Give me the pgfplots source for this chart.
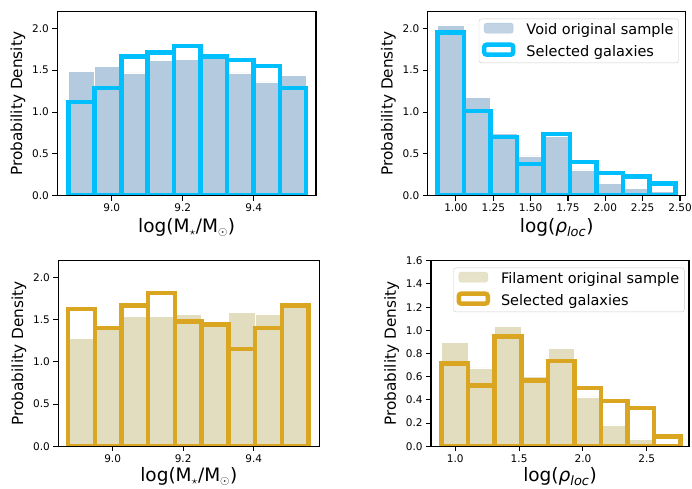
\documentclass[border=0pt]{standalone}
\usepackage{fontspec}
\setmainfont{DejaVu Sans}
\usepackage{pgfplots}
\pgfplotsset{compat=1.18}
\definecolor{voidfill}{RGB}{180,202,222}
\definecolor{filfill}{RGB}{225,221,190}
\definecolor{selblue}{RGB}{0,191,255}
\definecolor{selgold}{RGB}{218,165,32}
\pgfplotsset{
  hist/.style={
    scale only axis,
    axis on top,
    axis line style={line width=1.1pt, black},
    tick align=outside,
    tick pos=left,
    major tick length=4.9pt,
    every tick/.style={black, line width=1.1pt},
    ymin=0,
    /pgf/number format/assume math mode=true,
    ticklabel style={font=\fontsize{10.5}{12}\selectfont},
    yticklabel style={/pgf/number format/.cd, fixed, fixed zerofill, precision=1},
    ylabel={Probability Density},
    ylabel style={font=\fontsize{15.3}{17}\selectfont},
    xlabel style={font=\fontsize{18.5}{20}\selectfont},
    legend cell align=left,
    legend style={at={(1,1)}, anchor=north east, xshift=-7pt, yshift=-7pt,
      draw=black!20, rounded corners=2.5pt, fill=white, fill opacity=0.8, text opacity=1,
      font=\fontsize{14.5}{16}\selectfont, inner sep=3pt, row sep=4pt,
      /tikz/every odd column/.append style={column sep=9pt}},
  },
  filledbar/.style={ybar interval, fill=#1, draw=white, line width=0.5pt},
  outlinebar/.style={ybar interval, fill=none, draw=#1, line width=4.5pt},
}
\begin{document}
\begin{tikzpicture}
\path[use as bounding box] (0,0) rectangle (692pt,488pt);
% ---------- top left ----------
\begin{axis}[hist, at={(57.3pt,292.3pt)}, anchor=south west, width=258.7pt, height=184pt,
  xmin=8.847, xmax=9.575, ymax=2.2, xtick={9.0,9.2,9.4}, ytick={0,0.5,1,1.5,2},
  xticklabel style={/pgf/number format/.cd, fixed, fixed zerofill, precision=1},
  xlabel={log(M$_\star$/M$_\odot$)}]
\addplot[filledbar=voidfill] coordinates {(8.878,1.49) (8.952,1.55) (9.027,1.47) (9.101,1.62) (9.176,1.63) (9.250,1.64) (9.324,1.47) (9.399,1.36) (9.473,1.44) (9.547,1.44)};
\addplot[outlinebar=selblue] coordinates {(8.878,1.12) (8.952,1.29) (9.027,1.665) (9.101,1.71) (9.176,1.79) (9.250,1.665) (9.324,1.62) (9.399,1.55) (9.473,1.29) (9.547,1.29)};
\end{axis}
% ---------- top right ----------
\begin{axis}[hist, at={(427.7pt,292.3pt)}, anchor=south west, width=258pt, height=184pt,
  xmin=0.811, xmax=2.538, ymax=2.2, xtick={1,1.25,1.5,1.75,2,2.25,2.5}, ytick={0,0.5,1,1.5,2},
  xticklabel style={/pgf/number format/.cd, fixed, fixed zerofill, precision=2},
  xlabel={log({\itshape ρ}\textsubscript{\itshape loc})}]
\addplot[filledbar=voidfill, legend image code/.code={\fill[voidfill] (0pt,-3pt) rectangle (29pt,7pt);}] coordinates {(0.877,2.04) (1.054,1.18) (1.231,0.75) (1.408,0.475) (1.585,0.71) (1.763,0.31) (1.940,0.15) (2.117,0.09) (2.294,0.048) (2.471,0.048)};
\addlegendentry{Void original sample}
\addplot[outlinebar=selblue, legend image code/.code={\draw[selblue, line width=4.5pt] (0pt,-3pt) rectangle (29pt,7pt);}] coordinates {(0.877,1.95) (1.054,1.01) (1.231,0.70) (1.408,0.38) (1.585,0.735) (1.763,0.40) (1.940,0.27) (2.117,0.228) (2.294,0.143) (2.471,0.143)};
\addlegendentry{Selected galaxies}
\end{axis}
% ---------- bottom left ----------
\begin{axis}[hist, at={(58.3pt,41.7pt)}, anchor=south west, width=261pt, height=185.6pt,
  xmin=8.846, xmax=9.586, ymax=2.2, xtick={9.0,9.2,9.4}, ytick={0,0.5,1,1.5,2},
  xticklabel style={/pgf/number format/.cd, fixed, fixed zerofill, precision=1},
  xlabel style={yshift=2pt},
  xlabel={log(M$_\star$/M$_\odot$)}]
\addplot[filledbar=filfill] coordinates {(8.874,1.275) (8.950,1.44) (9.025,1.54) (9.101,1.54) (9.177,1.56) (9.252,1.47) (9.328,1.585) (9.404,1.57) (9.480,1.65) (9.555,1.65)};
\addplot[outlinebar=selgold] coordinates {(8.874,1.63) (8.950,1.405) (9.025,1.67) (9.101,1.82) (9.177,1.48) (9.252,1.445) (9.328,1.155) (9.404,1.405) (9.480,1.67) (9.555,1.67)};
\end{axis}
% ---------- bottom right ----------
\begin{axis}[hist, at={(431pt,41.7pt)}, anchor=south west, width=258pt, height=185.6pt,
  xmin=0.81, xmax=2.831, ymax=1.6, xtick={1,1.5,2,2.5}, ytick={0,0.2,0.4,0.6,0.8,1.0,1.2,1.4,1.6},
  xticklabel style={/pgf/number format/.cd, fixed, fixed zerofill, precision=1},
  legend style={xshift=2.5pt},
  xlabel style={yshift=2pt},
  xlabel={log({\itshape ρ}\textsubscript{\itshape loc})}]
\addplot[filledbar=filfill, legend image code/.code={\fill[filfill] (0pt,-3pt) rectangle (29pt,7pt);}] coordinates {(0.893,0.894) (1.101,0.677) (1.309,1.032) (1.517,0.608) (1.725,0.842) (1.934,0.427) (2.142,0.184) (2.350,0.063) (2.558,0.01) (2.766,0.01)};
\addlegendentry{Filament original sample}
\addplot[outlinebar=selgold, legend image code/.code={\draw[selgold, line width=4.5pt] (0pt,-3pt) rectangle (29pt,7pt);}] coordinates {(0.893,0.712) (1.101,0.525) (1.309,0.948) (1.517,0.568) (1.725,0.735) (1.934,0.502) (2.142,0.389) (2.350,0.329) (2.558,0.084) (2.766,0.084)};
\addlegendentry{Selected galaxies}
\end{axis}
\end{tikzpicture}
\end{document}
